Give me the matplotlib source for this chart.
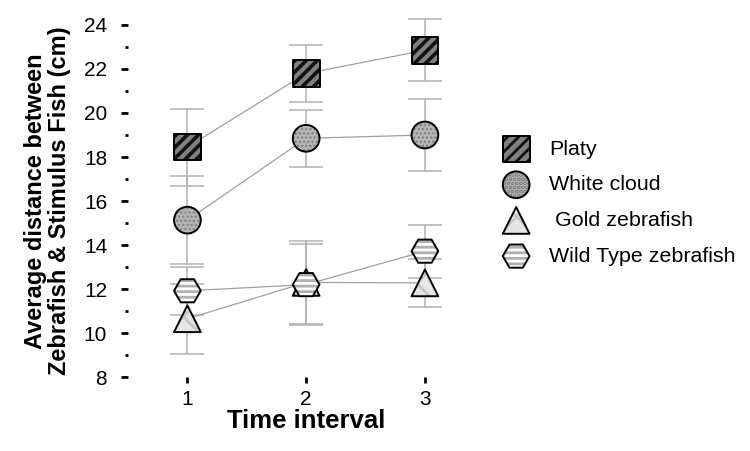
import matplotlib

matplotlib.use("Agg")
import matplotlib.pyplot as plt
from matplotlib.legend_handler import HandlerTuple

plt.rcParams["font.family"] = ["Liberation Sans", "DejaVu Sans"]

# data
time_interval = [1, 2, 3]
series_names = ["Platy", "White cloud", " Gold zebrafish", "Wild Type zebrafish"]
platy = [18.45, 21.8, 22.85]
platy_err = [1.75, 1.3, 1.4]
white_cloud = [15.13, 18.85, 19.0]
white_cloud_err = [2.0, 1.3, 1.62]
gold = [10.65, 12.3, 12.28]
gold_err = [1.6, 1.9, 1.1]
wild_type = [11.92, 12.2, 13.72]
wild_type_err = [1.1, 1.85, 1.2]

y_ticks = [8, 10, 12, 14, 16, 18, 20, 22, 24]

styles = [
    # marker, face, hatch, hatch colour, hatch lw
    ("s", "#808080", "///", "#111111", 2.6),
    ("o", "#b4b4b4", "....", "#7c7c7c", 1.0),
    ("^", "#e6e6e6", "x", "#c8c8c8", 2.0),
    ("H", "#ffffff", "---", "#b0b0b0", 2.0),
]

fig = plt.figure(figsize=(7.5, 4.51), dpi=100)
ax = fig.add_axes([0.1707, 0.164, 0.475, 0.7806])

values = [platy, white_cloud, gold, wild_type]
errors = [platy_err, white_cloud_err, gold_err, wild_type_err]

handles = []
for i, (name, vals, errs, st) in enumerate(zip(series_names, values, errors, styles)):
    marker, face, hatch, hcolor, hlw = st
    ax.errorbar(time_interval, vals, yerr=errs, fmt="none", ecolor="#b2b2b2",
                elinewidth=1.1, capsize=12.5, capthick=1.1, zorder=1, clip_on=False)
    ax.plot(time_interval, vals, color="#a0a0a0", lw=0.9, zorder=2)
    plt.rcParams["hatch.linewidth"] = hlw
    # fill + hatch layer, the hatch takes the edge colour
    fill = ax.scatter(time_interval, vals, s=370, marker=marker, facecolor=face,
                      edgecolor=hcolor, linewidths=0, hatch=hatch,
                      zorder=3 + 2 * i, clip_on=False)
    if hasattr(fill, "set_hatch_linewidth"):
        fill.set_hatch_linewidth(hlw)
    edge = ax.scatter(time_interval, vals, s=370, marker=marker, facecolor="none",
                      edgecolor="black", linewidths=1.4,
                      zorder=4 + 2 * i, clip_on=False)
    handles.append((fill, edge))

ax.set_xlim(0.5, 3.5)
ax.set_ylim(8, 24)
ax.set_xticks(time_interval)
ax.set_yticks(y_ticks)
ax.set_yticks(range(9, 24, 2), minor=True)
for side in ["left", "right", "top", "bottom"]:
    ax.spines[side].set_visible(False)

ax.tick_params(axis="y", which="major", direction="out", length=5, width=2, pad=10,
               labelsize=15)
ax.tick_params(axis="y", which="minor", direction="out", length=2, width=2)
ax.tick_params(axis="x", which="major", direction="out", length=4, width=2, pad=5,
               labelsize=15)

ax.set_xlabel("Time interval", fontsize=18.5, fontweight="bold", labelpad=0)
ax.set_ylabel("Average distance between\nZebrafish & Stimulus Fish (cm)", fontsize=17,
              fontweight="bold", labelpad=9, linespacing=1.05)

ax.legend(handles=handles, labels=series_names, loc="upper left",
          bbox_to_anchor=(0.656, 0.714), bbox_transform=fig.transFigure,
          frameon=False, fontsize=15.4, scatterpoints=1,
          handler_map={tuple: HandlerTuple(ndivide=1, pad=0)},
          handlelength=1.26, handletextpad=0.92, borderpad=0, labelspacing=0.78)

fig.savefig("out.png", dpi=100)
